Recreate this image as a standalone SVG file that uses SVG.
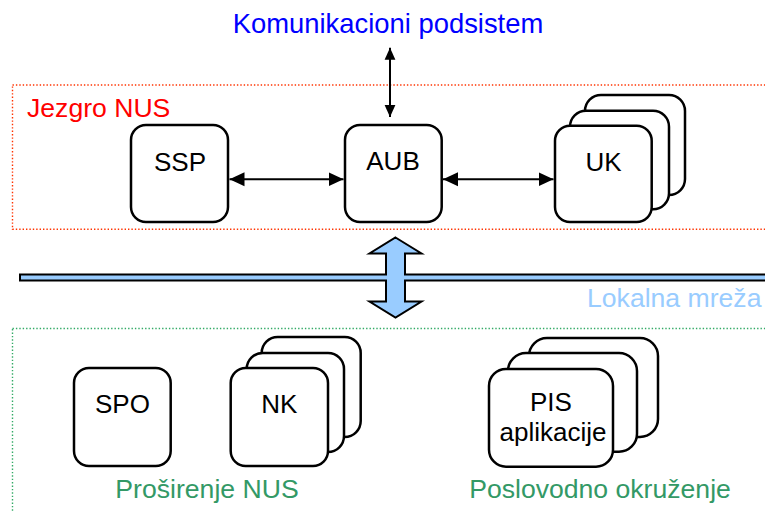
<svg xmlns="http://www.w3.org/2000/svg" width="765" height="511" viewBox="0 0 765 511">
  <defs>
    <marker id="head" markerUnits="userSpaceOnUse" markerWidth="16" markerHeight="16" viewBox="0 0 16 16" refX="15" refY="8" orient="auto-start-reverse">
      <path d="M0,1 L15,8 L0,15 Z" fill="#000"/>
    </marker>
    <marker id="headSmall" markerUnits="userSpaceOnUse" markerWidth="13" markerHeight="12" viewBox="0 0 13 12" refX="12" refY="6" orient="auto-start-reverse">
      <path d="M0,0.6 L12,6 L0,11.4 Z" fill="#000"/>
    </marker>
  </defs>
  <style>
    text { font-family: "Liberation Sans", Arial, sans-serif; font-size: 26.6px; }
    .box { fill: #fff; stroke: #000; stroke-width: 2.5; }
    .label { fill: #000; text-anchor: middle; font-size: 26px; }
    .link { stroke: #000; stroke-width: 2; fill: none; }
    .zone { fill: none; stroke-width: 1.4; stroke-dasharray: 1.4 2; }
  </style>

  <rect width="765" height="511" fill="#fff"/>

  <!-- regions -->
  <g id="core-zone">
    <rect class="zone" x="12.5" y="85" width="770" height="144.3" stroke="#ff3300"/>
    <text x="27" y="117" fill="#ff0000">Jezgro NUS</text>
  </g>
  <g id="extension-zone">
    <rect class="zone" x="12.5" y="328.5" width="770" height="200" stroke="#33aa66"/>
  </g>

  <!-- external subsystem -->
  <g id="comm-subsystem">
    <text x="388" y="33" fill="#0000ff" text-anchor="middle" style="font-size:27.4px">Komunikacioni podsistem</text>
  </g>

  <!-- local network bus with the two-way block arrow -->
  <g id="lan">
    <path d="M395.5,237.5 L421.5,253.5 L405,253.5 L405,274.5 L780,274.5 L780,280.5 L405,280.5 L405,301.5 L421.5,301.5 L395.5,317.5 L369.5,301.5 L386,301.5 L386,280.5 L20,280.5 L20,274.5 L386,274.5 L386,253.5 L369.5,253.5 Z" fill="#99ccff" stroke="#000" stroke-width="2" stroke-linejoin="miter"/>
    <text x="587" y="307" fill="#99ccff">Lokalna mreža</text>
  </g>

  <!-- core nodes -->
  <g id="ssp">
    <rect class="box" x="131" y="125" width="97" height="97" rx="15"/>
    <text class="label" x="180" y="171">SSP</text>
  </g>
  <g id="aub">
    <rect class="box" x="345" y="125" width="96.7" height="97" rx="15"/>
    <text class="label" x="393" y="170">AUB</text>
  </g>
  <g id="uk">
    <rect class="box" x="585" y="95" width="100" height="100" rx="16"/>
    <rect class="box" x="570" y="110.7" width="99" height="98.6" rx="16"/>
    <rect class="box" x="555" y="125.7" width="96.7" height="96.3" rx="15"/>
    <text class="label" x="603.5" y="171">UK</text>
  </g>

  <!-- extension nodes -->
  <g id="spo">
    <rect class="box" x="74" y="368" width="96.7" height="98" rx="15"/>
    <text class="label" x="122.5" y="413">SPO</text>
  </g>
  <g id="nk">
    <rect class="box" x="261.7" y="337" width="99" height="100" rx="16"/>
    <rect class="box" x="246.7" y="353" width="97.3" height="99" rx="16"/>
    <rect class="box" x="230.7" y="368" width="97.3" height="98" rx="15"/>
    <text class="label" x="279.4" y="413">NK</text>
  </g>
  <g id="pis">
    <rect class="box" x="529" y="338" width="129" height="99" rx="18"/>
    <rect class="box" x="508" y="353" width="129" height="98.7" rx="18"/>
    <rect class="box" x="489" y="369" width="124" height="97.7" rx="17"/>
    <text class="label" x="551" y="410.7">PIS</text>
    <text class="label" x="553" y="440.7">aplikacije</text>
  </g>

  <g id="extension-labels">
    <text x="207" y="498" fill="#339966" text-anchor="middle">Proširenje NUS</text>
    <text x="600" y="498" fill="#339966" text-anchor="middle">Poslovodno okruženje</text>
  </g>

  <!-- connectors -->
  <g id="connectors">
    <line class="link" x1="229.5" y1="179.3" x2="343.5" y2="179.3" marker-start="url(#head)" marker-end="url(#head)"/>
    <line class="link" x1="443" y1="179.3" x2="553.5" y2="179.3" marker-start="url(#head)" marker-end="url(#head)"/>
    <line class="link" x1="390" y1="47.7" x2="390" y2="117" marker-start="url(#headSmall)" marker-end="url(#headSmall)"/>
  </g>
</svg>
